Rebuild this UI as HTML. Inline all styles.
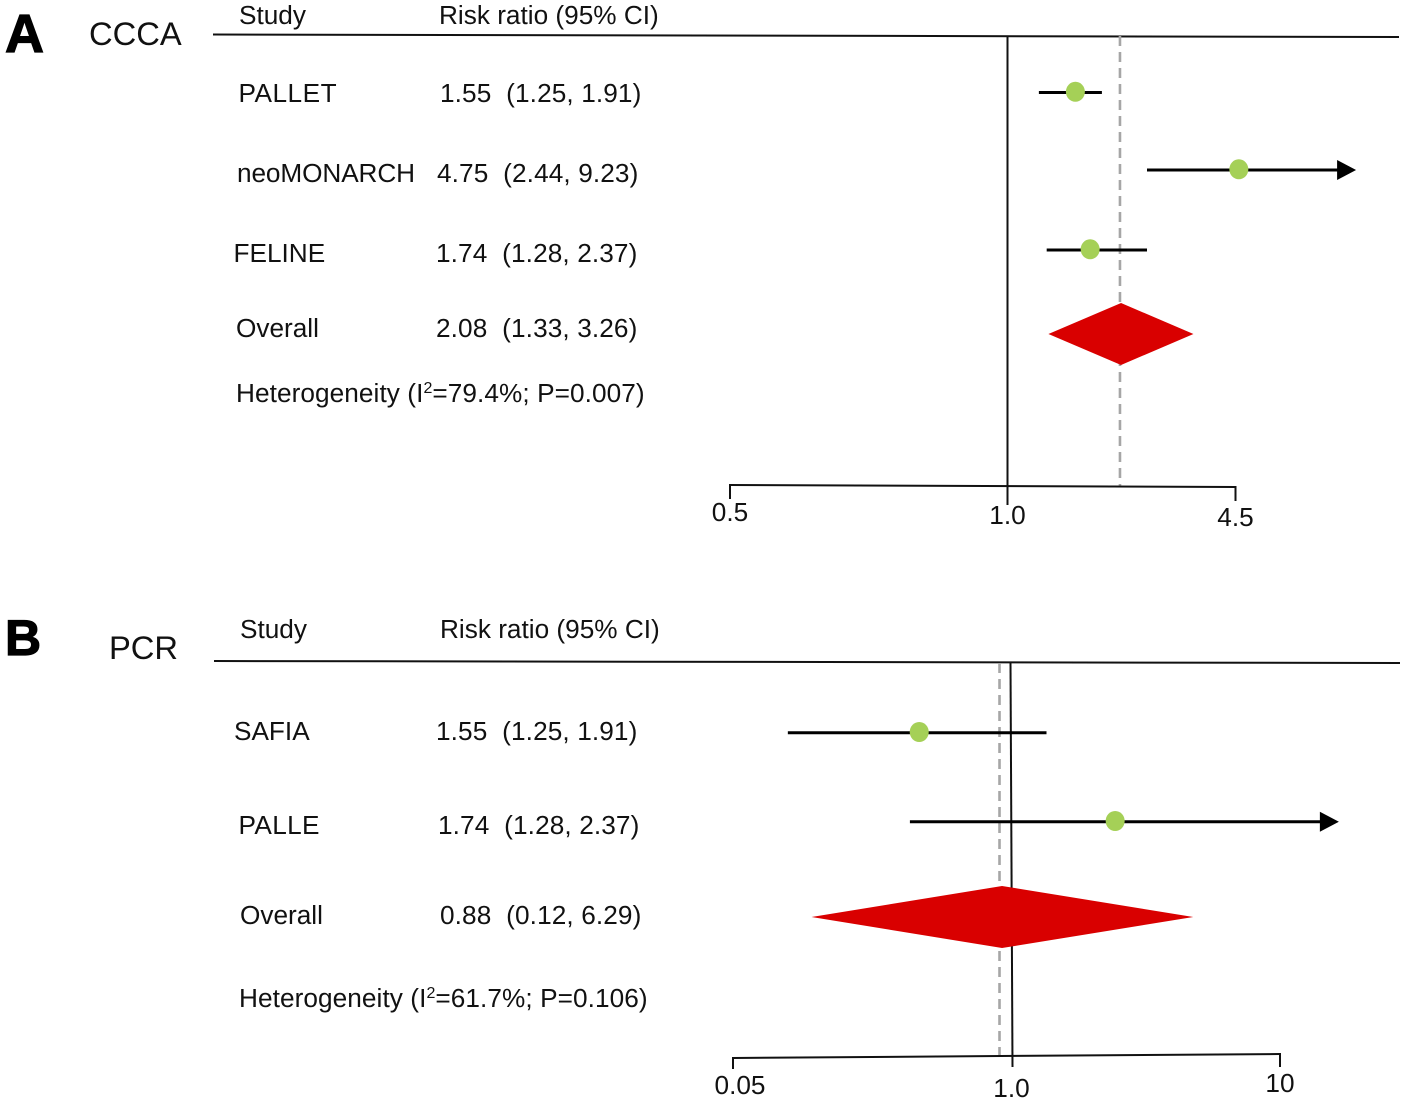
<!DOCTYPE html>
<html lang="en">
<head>
<meta charset="utf-8">
<title>Forest plots of CCCA and PCR risk ratios</title>
<style>
html,body{margin:0;padding:0;background:#fff;}
svg{display:block;}
text{font-family:"Liberation Sans",Arial,sans-serif;font-size:26.2px;fill:#111;}
.val{letter-spacing:.11px;}
.het{letter-spacing:.07px;}
</style>
</head>
<body>
<svg id="figure" xmlns="http://www.w3.org/2000/svg" width="1405" height="1102" viewBox="0 0 1405 1102">
<rect width="1405" height="1102" fill="#fff"/>

<g>
  <text x="5" y="52" style="font-size:54px;font-weight:bold;stroke:#000;stroke-width:1.2px;fill:#000">A</text>
  <text x="89" y="45" style="font-size:32.7px">CCCA</text>
  <text x="239" y="24">Study</text>
  <text x="439" y="24">Risk ratio (95% CI)</text>
  <text x="238.5" y="102" style="letter-spacing:.5px">PALLET</text>
  <text class="val" x="440" y="102" xml:space="preserve">1.55  (1.25, 1.91)</text>
  <text x="237" y="182" style="letter-spacing:-.1px">neoMONARCH</text>
  <text class="val" x="437" y="182" xml:space="preserve">4.75  (2.44, 9.23)</text>
  <text x="233.5" y="262">FELINE</text>
  <text class="val" x="436" y="262" xml:space="preserve">1.74  (1.28, 2.37)</text>
  <text x="236" y="337">Overall</text>
  <text class="val" x="436" y="337" xml:space="preserve">2.08  (1.33, 3.26)</text>
  <text class="het" x="236" y="402">Heterogeneity (I<tspan dy="-9" style="font-size:16px">2</tspan><tspan dy="9">=79.4%; P=0.007)</tspan></text>
</g>

<g>
  <text x="5" y="655" style="font-size:50px;font-weight:bold;stroke:#000;stroke-width:1.2px;fill:#000">B</text>
  <text x="109" y="659" style="font-size:32.7px">PCR</text>
  <text x="240" y="638">Study</text>
  <text x="440" y="638">Risk ratio (95% CI)</text>
  <text x="234" y="740">SAFIA</text>
  <text class="val" x="436" y="740" xml:space="preserve">1.55  (1.25, 1.91)</text>
  <text x="238.5" y="834" style="letter-spacing:.35px">PALLE</text>
  <text class="val" x="438" y="834" xml:space="preserve">1.74  (1.28, 2.37)</text>
  <text x="240" y="924">Overall</text>
  <text class="val" x="440" y="924" xml:space="preserve">0.88  (0.12, 6.29)</text>
  <text class="het" x="239" y="1007">Heterogeneity (I<tspan dy="-9" style="font-size:16px">2</tspan><tspan dy="9">=61.7%; P=0.106)</tspan></text>
</g>

<line x1="213" y1="34.5" x2="1399" y2="37" stroke="#111" stroke-width="2"/>
<line x1="214" y1="661" x2="1400" y2="663" stroke="#111" stroke-width="2"/>
<g id="marks"></g>
</svg>

<script>
// Panel A (CCCA): values as plotted in the figure
const studiesA = ['pallet', 'neomonarch', 'feline'];
const lowA = [1.23, 2.51, 1.295];
const midA = [1.565, 4.6, 1.725];
const highA = [1.864, 9.97, 2.51];
const arrowA = [false, true, false];
const overallA = [1.31, 2.115, 3.41];
const pooledLineA = [2.1];
const ticksA = [0.5, 1.0, 4.5];
const tickLabelsA = ['0.5', '1.0', '4.5'];

// Panel B (PCR): values as plotted in the figure
const studiesB = ['safia', 'palle'];
const lowB = [0.09, 0.333];
const midB = [0.368, 2.42];
const highB = [1.34, 16.6];
const arrowB = [false, true];
const overallB = [0.116, 0.894, 4.74];
const pooledLineB = [0.87];
const ticksB = [0.05, 1.0, 10];
const tickLabelsB = ['0.05', '1.0', '10'];

const NS = 'http://www.w3.org/2000/svg';
const root = document.getElementById('marks');

function add(tag, attrs, name) {
  const el = document.createElementNS(NS, tag);
  for (const k in attrs) el.setAttribute(k, attrs[k]);
  
  
  root.appendChild(el);
  return el;
}

// Axis maps a value to pixels on a log scale, with the reference (1.0) tick as a hinge
function makeScale(ticks, px) {
  return function (v) {
    const i = v < ticks[1] ? 0 : 1;
    const a = Math.log(ticks[i]), b = Math.log(ticks[i + 1]);
    return px[i] + (Math.log(v) - a) / (b - a) * (px[i + 1] - px[i]);
  };
}

function drawPanel(cfg) {
  const x = makeScale(cfg.ticks, cfg.tickPx);
  const axisY = function (px) {
    return cfg.axisY0 + (px - cfg.tickPx[0]) / (cfg.tickPx[2] - cfg.tickPx[0]) * (cfg.axisY1 - cfg.axisY0);
  };
  const p = cfg.id;

  // pooled dashed line
  const dx = x(cfg.pooled[0]);
  add('line', {x1: dx, y1: cfg.top, x2: dx, y2: axisY(dx), stroke: '#a6a6a6', 'stroke-width': 2.6, 'stroke-dasharray': '10 6'}, 'pooled-estimate-line-' + p);

  // null line with its tick
  const nx = x(cfg.ticks[1]);
  add('line', {x1: nx + cfg.nullTilt[0], y1: cfg.top, x2: nx, y2: cfg.tickEnd[1], stroke: '#111', 'stroke-width': 2}, 'null-line-' + p);

  // axis line
  add('line', {x1: cfg.tickPx[0], y1: cfg.axisY0, x2: cfg.tickPx[2], y2: cfg.axisY1, stroke: '#111', 'stroke-width': 2}, 'x-axis-' + p);

  // ticks and labels
  cfg.ticks.forEach(function (t, i) {
    const tx = x(t);
    if (i !== 1) {
      add('line', {x1: tx, y1: axisY(tx) - 1, x2: tx, y2: cfg.tickEnd[i], stroke: '#111', 'stroke-width': 2}, 'x-tick-' + p + '-' + i);
    }
    const label = add('text', {x: tx + cfg.labelDx[i], y: cfg.labelY[i], 'text-anchor': 'middle'}, 'x-tick-label-' + p + '-' + i);
    label.textContent = cfg.tickLabels[i];
  });

  // study confidence intervals and points
  cfg.studies.forEach(function (s, i) {
    const y = cfg.rowY[i];
    const lx = x(cfg.low[i]), hx = x(cfg.high[i]), mx = x(cfg.mid[i]);
    const lineEnd = cfg.arrow[i] ? hx - 17 : hx;
    add('line', {x1: lx, y1: y, x2: lineEnd, y2: y, stroke: '#000', 'stroke-width': 3}, 'ci-line-' + s);
    if (cfg.arrow[i]) {
      add('polygon', {points: (hx - 19) + ',' + (y - 10) + ' ' + hx + ',' + y + ' ' + (hx - 19) + ',' + (y + 10), fill: '#000'}, 'ci-arrow-' + s);
    }
    add('ellipse', {cx: mx, cy: y - 0.7, rx: 9.5, ry: 10, fill: '#a5d057'}, 'point-' + s);
  });

  // overall diamond
  const l = x(cfg.overall[0]), c = x(cfg.overall[1]), r = x(cfg.overall[2]);
  const dy = cfg.diamondY, dh = cfg.diamondH;
  add('polygon', {points: l + ',' + dy + ' ' + c + ',' + (dy - dh) + ' ' + r + ',' + dy + ' ' + c + ',' + (dy + dh), fill: '#d90000'}, 'overall-diamond-' + p);
}

drawPanel({
  id: 'a', studies: studiesA, low: lowA, mid: midA, high: highA, arrow: arrowA,
  overall: overallA, pooled: pooledLineA, ticks: ticksA, tickLabels: tickLabelsA,
  tickPx: [730, 1007.5, 1235.5], axisY0: 485, axisY1: 487, top: 36,
  tickEnd: [499, 505, 501], labelY: [521, 524, 526], labelDx: [0, 0, 0],
  nullTilt: [0, 0], rowY: [92.5, 170, 250], diamondY: 334, diamondH: 31
});

drawPanel({
  id: 'b', studies: studiesB, low: lowB, mid: midB, high: highB, arrow: arrowB,
  overall: overallB, pooled: pooledLineB, ticks: ticksB, tickLabels: tickLabelsB,
  tickPx: [733, 1012.5, 1280], axisY0: 1058, axisY1: 1054, top: 663,
  tickEnd: [1069, 1067, 1067], labelY: [1094, 1097, 1092], labelDx: [7, -1, 0],
  nullTilt: [-2, 0], rowY: [732.7, 821.7], diamondY: 917, diamondH: 31
});
</script>
</body>
</html>
